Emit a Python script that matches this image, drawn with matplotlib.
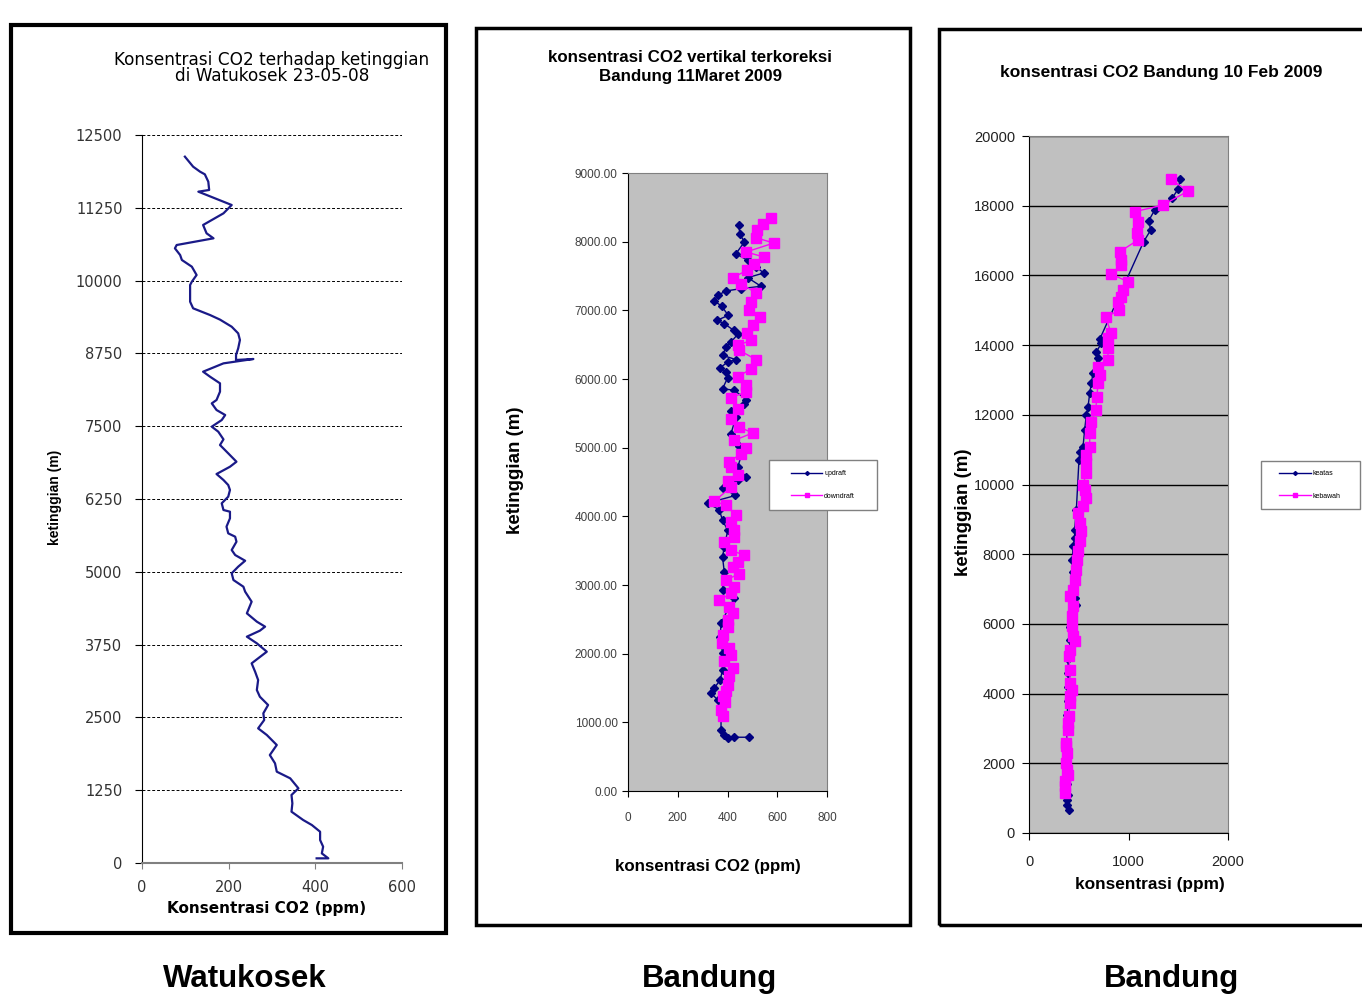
import matplotlib.pyplot as plt
from matplotlib.patches import Rectangle
from matplotlib.ticker import FormatStrFormatter

# --- Watukosek 23-05-08 (single profile) ---
wk_height = [80, 80, 165, 280, 395, 537, 652, 738, 881, 1024, 1168, 1282, 1454, 1568, 1711,
             1854, 2026, 2198, 2312, 2455, 2570, 2713, 2855, 2970, 3142, 3285, 3428, 3514,
             3628, 3772, 3886, 3989, 4058, 4144, 4287, 4487, 4659, 4744, 4859, 4974, 5088,
             5190, 5288, 5374, 5517, 5603, 5660, 5775, 5918, 6032, 6061, 6176, 6290, 6405,
             6490, 6576, 6679, 6804, 6890, 7034, 7177, 7274, 7406, 7492, 7606, 7692, 7778,
             7892, 7950, 8093, 8236, 8350, 8436, 8579, 8654, 8637, 8722, 8837, 8980, 9094,
             9208, 9330, 9409, 9524, 9638, 9810, 9924, 9981, 10096, 10239, 10354, 10439,
             10554, 10611, 10726, 10812, 10955, 11155, 11298, 11527, 11556, 11698, 11825,
             11870, 11956, 12128]
wk_co2 = [403, 430, 415, 418, 411, 411, 392, 372, 345, 347, 345, 361, 342, 311, 307,
          295, 311, 288, 268, 282, 280, 291, 272, 265, 268, 261, 253, 268,
          288, 265, 242, 272, 284, 265, 242, 253, 238, 234, 211, 207, 222,
          238, 215, 207, 218, 215, 199, 195, 203, 203, 188, 184, 199, 203,
          199, 188, 172, 203, 218, 199, 180, 188, 176, 161, 184, 192, 172,
          161, 172, 180, 180, 157, 141, 188, 257, 217, 217, 222, 226, 222,
          207, 180, 157, 118, 111, 111, 111, 115, 126, 115, 92, 88,
          76, 80, 165, 149, 141, 188, 207, 130, 155, 153, 145,
          134, 118, 99]

# --- Bandung 11 Maret 2009 ---
up_height = [8238, 8107, 7995, 7825, 7728, 7631, 7544, 7476, 7350, 7316, 7282, 7218, 7136,
             7063, 6927, 6854, 6806, 6709, 6650, 6539, 6466, 6345, 6282, 6248, 6165, 6102,
             6019, 5859, 5835, 5699, 5641, 5534, 5447, 5204, 5117, 5019, 4913, 4718, 4573,
             4524, 4417, 4304, 4192, 4096, 3941, 3796, 3554, 3409, 3191, 2926, 2805, 2684,
             2442, 2249, 2007, 1765, 1620, 1499, 1426, 1330, 1136, 895, 822, 774, 783, 783]
up_co2 = [445, 450, 468, 434, 481, 515, 546, 481, 535, 454, 394, 360, 347,
          376, 403, 358, 387, 425, 441, 414, 394, 380, 434, 401, 371, 394,
          401, 380, 428, 475, 468, 414, 434, 414, 425, 448, 458, 441, 475,
          441, 380, 432, 320, 367, 380, 401, 387, 380, 387, 380, 428, 407,
          374, 371, 380, 380, 371, 347, 333, 360, 374, 374, 387, 401, 428, 488]
down_height = [8350, 8262, 8165, 8058, 7980, 7850, 7777, 7680, 7583, 7476, 7388, 7252, 7121,
               7000, 6903, 6782, 6670, 6563, 6490, 6417, 6282, 6150, 6029, 5908, 5811, 5728,
               5568, 5422, 5301, 5213, 5107, 5000, 4913, 4791, 4718, 4597, 4515, 4425, 4221,
               4159, 4014, 3917, 3796, 3699, 3627, 3506, 3433, 3337, 3264, 3167, 3071, 2974,
               2877, 2780, 2684, 2587, 2490, 2394, 2273, 2152, 2079, 1983, 1886, 1789, 1668,
               1547, 1451, 1378, 1291, 1185, 1088]
down_co2 = [573, 541, 518, 514, 586, 475, 546, 508, 479, 421, 454, 515, 495,
            488, 532, 501, 479, 495, 441, 448, 515, 495, 441, 475, 475, 414,
            441, 414, 448, 501, 427, 475, 454, 407, 414, 441, 401, 414, 347,
            394, 434, 414, 428, 428, 387, 414, 468, 441, 421, 448, 394, 428,
            414, 367, 407, 421, 401, 401, 383, 377, 407, 414, 387, 421, 407,
            401, 394, 383, 391, 374, 380]

# --- Bandung 10 Feb 2009 ---
keatas_height = [670, 813, 957, 1100, 1400, 1800, 2200, 2600, 3000, 3400, 3800, 4200, 4600,
                 5000, 5215, 5550, 5900, 6250, 6555, 6746, 7100, 7500, 7847, 8230, 8469, 8708,
                 9282, 10699, 10938, 11081, 11560, 11990, 12230, 12612, 12900, 13187, 13636,
                 13809, 14048, 14163, 16967, 17301, 17569, 17876, 18211, 18469, 18756]
keatas_co2 = [402, 385, 382, 392, 380, 375, 372, 378, 380, 385, 390, 395, 392,
              395, 410, 409, 415, 420, 469, 459, 440, 445, 436, 442, 459, 459,
              476, 502, 516, 543, 559, 576, 593, 610, 626, 643, 693,
              677, 727, 710, 1152, 1223, 1203, 1263, 1437, 1497, 1521]
kebawah_height = [1148, 1340, 1500, 1675, 1818, 2010, 2297, 2488, 2584, 2967, 3158, 3349, 3732,
                  3923, 4115, 4306, 4689, 5072, 5263, 5502, 5646, 5933, 6220, 6507, 6794, 6986,
                  7273, 7560, 7847, 8086, 8373, 8660, 8900, 9187, 9378, 9617, 9856, 10000,
                  10335, 10603, 10842, 11081, 11464, 11799, 12134, 12517, 12900, 13139, 13378,
                  13569, 13904, 14191, 14335, 14794, 15005, 15244, 15388, 15579, 15818, 16038,
                  16297, 16440, 16679, 17014, 17206, 17541, 17828, 18019, 18421, 18756]
kebawah_co2 = [358, 358, 365, 392, 382, 375, 378, 375, 375, 392, 392, 402, 409,
               415, 436, 415, 409, 402, 409, 459, 442, 436, 436, 442, 409, 442,
               459, 469, 482, 492, 509, 526, 509, 492, 543, 576, 559, 543,
               576, 576, 576, 610, 610, 626, 670, 683, 693, 710, 693,
               794, 794, 794, 827, 771, 904, 894, 928, 945, 995, 827,
               928, 928, 911, 1095, 1085, 1095, 1062, 1347, 1598, 1424]

W, H = 1362, 1000


def fx(px):
    return px / W


def fy(py):
    return 1 - py / H


def box(x0, y0, x1, y1):
    # pixel box (top-left origin) -> figure rect
    return [fx(x0), fy(y1), (x1 - x0) / W, (y1 - y0) / H]


NARROW = ['Liberation Sans Narrow', 'Liberation Sans', 'DejaVu Sans']
ARIAL = ['Liberation Sans', 'DejaVu Sans']
VERD = ['DejaVu Sans']
NAVY = '#000080'
MAG = '#ff00ff'

fig = plt.figure(figsize=(13.62, 10), dpi=100)

# panel frames
for x0, y0, x1, y1, lw in [(11, 25, 446, 933, 3), (476, 28, 910, 925, 2.5), (939, 29, 1370, 925, 2.5)]:
    fig.add_artist(Rectangle((fx(x0), fy(y1)), (x1 - x0) / W, (y1 - y0) / H, fill=False,
                             ec='black', lw=lw, transform=fig.transFigure))

# ---------------- panel 1 ----------------
ax1 = fig.add_axes(box(142, 135, 402, 863))
ax1.plot(wk_co2, wk_height, color='#1a1a88', lw=1.6)
ax1.set_xlim(0, 600)
ax1.set_ylim(0, 12500)
ax1.set_xticks(range(0, 601, 200))
ax1.set_yticks(range(0, 12501, 1250))
ax1.grid(axis='y', ls=(0, (3, 2)), color='black', lw=0.7)
ax1.set_axisbelow(True)
for s in ['top', 'right']:
    ax1.spines[s].set_visible(False)
ax1.spines['bottom'].set_color('#808080')
ax1.spines['bottom'].set_linewidth(1.5)
ax1.tick_params(axis='y', length=5, pad=9, labelsize=10.5, labelcolor='#333333')
ax1.tick_params(axis='x', length=4, pad=8, labelsize=10.5, labelcolor='#333333', color='#808080')
for lab in ax1.get_xticklabels() + ax1.get_yticklabels():
    lab.set_family(VERD)
fig.text(fx(272), fy(68), 'Konsentrasi CO2 terhadap ketinggian\ndi Watukosek 23-05-08',
         ha='center', va='center', fontsize=12.2, family=VERD, linespacing=0.92)
fig.text(fx(267), fy(909), 'Konsentrasi CO2 (ppm)', ha='center', va='center',
         fontsize=11, fontweight='bold', family=VERD)
fig.text(fx(55), fy(497), 'ketinggian (m)', ha='center', va='center', rotation=90,
         fontsize=10, fontweight='bold', family=ARIAL)

# ---------------- panel 2 ----------------
ax2 = fig.add_axes(box(628, 173, 827, 791))
ax2.set_facecolor('#c0c0c0')
ax2.plot(up_co2, up_height, color=NAVY, lw=1, marker='D', ms=4, label='updraft')
ax2.plot(down_co2, down_height, color=MAG, lw=1, marker='s', ms=7, label='downdraft')
ax2.set_xlim(0, 800)
ax2.set_ylim(0, 9000)
ax2.set_xticks(range(0, 801, 200))
ax2.set_yticks(range(0, 9001, 1000))
ax2.yaxis.set_major_formatter(FormatStrFormatter('%.2f'))
for s in ['top', 'right']:
    ax2.spines[s].set_color('#808080')
ax2.tick_params(length=4, labelsize=8.5, labelcolor='#404040')
ax2.tick_params(axis='x', pad=11)
for lab in ax2.get_xticklabels() + ax2.get_yticklabels():
    lab.set_family(NARROW)
fig.text(fx(690), fy(67), 'konsentrasi CO2 vertikal terkoreksi\nBandung 11Maret 2009',
         ha='center', va='center', fontsize=12.2, fontweight='bold', family=NARROW, linespacing=1.4)
fig.text(fx(708), fy(866), 'konsentrasi CO2 (ppm)', ha='center', va='center',
         fontsize=12.2, fontweight='bold', family=NARROW)
fig.text(fx(516), fy(470), 'ketinggian (m)', ha='center', va='center', rotation=90,
         fontsize=13.5, fontweight='bold', family=ARIAL)
fig.add_artist(Rectangle((fx(769), fy(510)), 108 / W, 50 / H, fill=True, fc='white',
                         ec='#808080', lw=1, transform=fig.transFigure))
fig.legend(handles=ax2.get_lines(), loc='center', bbox_to_anchor=(fx(823), fy(485)),
           frameon=False, numpoints=1, markerscale=0.5, handlelength=4.5,
           handletextpad=0.3, labelspacing=2.2, prop={'family': NARROW, 'size': 5})

# ---------------- panel 3 ----------------
ax3 = fig.add_axes(box(1029, 136, 1228, 833))
ax3.set_facecolor('#c0c0c0')
ax3.plot(keatas_co2, keatas_height, color=NAVY, lw=1, marker='D', ms=4, label='keatas')
ax3.plot(kebawah_co2, kebawah_height, color=MAG, lw=1, marker='s', ms=6.5, label='kebawah')
ax3.set_xlim(0, 2000)
ax3.set_ylim(0, 20000)
ax3.set_xticks([0, 1000, 2000])
ax3.set_yticks(range(0, 20001, 2000))
ax3.grid(axis='y', color='black', lw=1)
ax3.set_axisbelow(True)
for s in ['top', 'right']:
    ax3.spines[s].set_color('#808080')
ax3.tick_params(length=5, labelsize=10.5, labelcolor='#222222')
ax3.tick_params(axis='x', pad=11)
ax3.tick_params(axis='y', pad=5)
for lab in ax3.get_xticklabels() + ax3.get_yticklabels():
    lab.set_family(ARIAL)
fig.text(fx(1161), fy(73), 'konsentrasi CO2 Bandung 10 Feb 2009', ha='center', va='center',
         fontsize=12.5, fontweight='bold', family=NARROW)
fig.text(fx(1150), fy(884), 'konsentrasi (ppm)', ha='center', va='center',
         fontsize=12.4, fontweight='bold', family=NARROW)
fig.text(fx(964), fy(512), 'ketinggian (m)', ha='center', va='center', rotation=90,
         fontsize=13.5, fontweight='bold', family=ARIAL)
fig.add_artist(Rectangle((fx(1261), fy(509)), 99 / W, 48 / H, fill=True, fc='white',
                         ec='#808080', lw=1, transform=fig.transFigure))
fig.legend(handles=ax3.get_lines(), loc='center', bbox_to_anchor=(fx(1310), fy(485)),
           frameon=False, numpoints=1, markerscale=0.5, handlelength=4.5,
           handletextpad=0.3, labelspacing=2.2, prop={'family': NARROW, 'size': 5})

# captions
for x, name in [(245, 'Watukosek'), (709, 'Bandung'), (1172, 'Bandung')]:
    fig.text(fx(x), fy(979), name, ha='center', va='center', fontsize=22.5,
             fontweight='bold', family=ARIAL)

fig.savefig('out.png', dpi=100)
